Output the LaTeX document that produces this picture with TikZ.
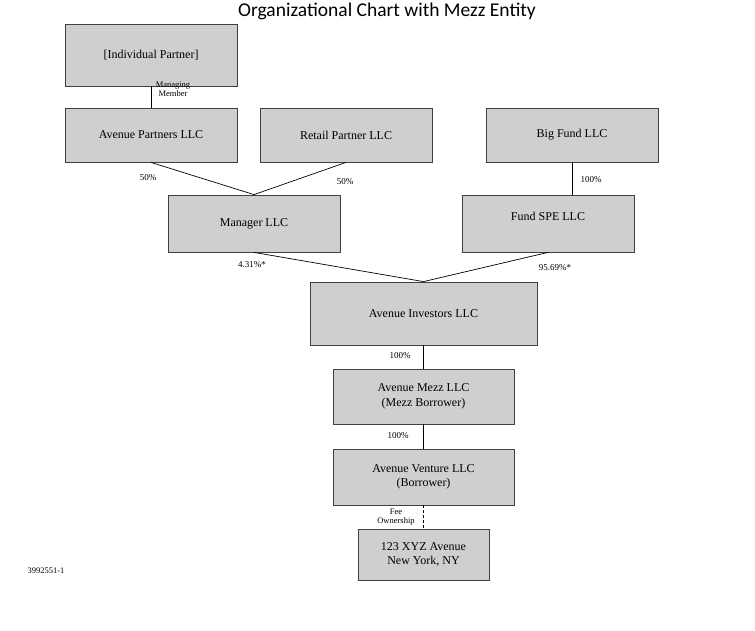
\documentclass[tikz,border=0pt]{standalone}
\usepackage{fontspec}
\setmainfont{Liberation Serif}
\newfontfamily\titlefont{Carlito}
\usetikzlibrary{positioning, calc}
\tikzset{
	entity/.style={rectangle, draw=black!75, fill=black!19, line width=0.8pt, minimum width=172pt, minimum height=54pt, font=\fontsize{12}{14.5}\selectfont, align=center, inner sep=2pt},
	share_lbl/.style={font=\fontsize{9}{10}\selectfont, inner sep=1pt, align=center},
	note_lbl/.style={font=\fontsize{8.5}{9.5}\selectfont, inner sep=1pt, align=center},
	conn_own/.style={draw=black, line width=0.7pt},
	conn_fee/.style={draw=black, line width=0.7pt, densely dashed}
}

\begin{document}
\begin{tikzpicture}[x=1pt, y=-1pt]
	\useasboundingbox (0,0) rectangle (755,631);
	\node[font=\titlefont\fontsize{19.5}{21}\selectfont] (title) at (387,11) {Organizational Chart with Mezz Entity};
	% top row
	\node[entity, minimum height=62pt] (indiv) at (151,55) {[Individual Partner]};
	\node[entity] (avp) at (151,135) {Avenue Partners LLC};
	\node[entity] (retail) at (346,135) {Retail Partner LLC};
	\node[entity] (bigfund) at (572,135) {Big Fund LLC};
	% middle row
	\node[entity, minimum height=57pt] (mgr) at (254,223.5) {Manager LLC};
	\node[entity, minimum height=57pt, text depth=14pt] (spe) at (548,223.5) {Fund SPE LLC};
	% stack
	\node[entity, minimum width=227pt, minimum height=63pt] (inv) at (423.5,313.5) {Avenue Investors LLC};
	\node[entity, minimum width=181pt, minimum height=55pt] (mezz) at (423.5,396.5) {Avenue Mezz LLC\\(Mezz Borrower)};
	\node[entity, minimum width=181pt, minimum height=56pt] (venture) at (423.5,477) {Avenue Venture LLC\\(Borrower)};
	\node[entity, minimum width=131pt, minimum height=51pt] (prop) at (423.5,554.5) {123 XYZ Avenue\\New York, NY};
	% connectors
	\draw[conn_own] (indiv) -- (avp);
	\draw[conn_own] (avp.south) -- (mgr.north);
	\draw[conn_own] (retail.south) -- (mgr.north);
	\draw[conn_own] (bigfund.south) -- (bigfund.south |- spe.north);
	\draw[conn_own] (mgr.south) -- (inv.north);
	\draw[conn_own] (spe.south) -- (inv.north);
	\draw[conn_own] (inv) -- (mezz);
	\draw[conn_own] (mezz) -- (venture);
	\draw[conn_fee] (venture) -- (prop);
	% labels
	\node[note_lbl] (lmm) at (173,89) {Managing\\Member};
	\node[share_lbl] (l50a) at (148,178) {50\%};
	\node[share_lbl] (l50b) at (345,182) {50\%};
	\node[share_lbl] (l100a) at (591,180) {100\%};
	\node[share_lbl] (l431) at (252,265) {4.31\%*};
	\node[share_lbl] (l9569) at (555,268) {95.69\%*};
	\node[share_lbl] (l100b) at (400,356) {100\%};
	\node[share_lbl] (l100c) at (398,436) {100\%};
	\node[note_lbl] (lfee) at (396,517) {Fee\\Ownership};
	\node[note_lbl] (docid) at (46,571) {3992551-1};
\end{tikzpicture}
\end{document}
